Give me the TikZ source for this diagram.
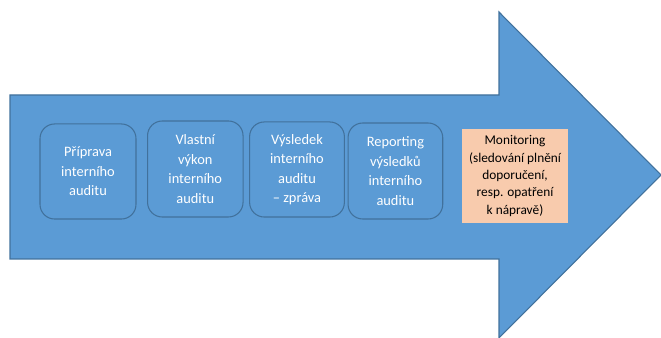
\documentclass[tikz,border=0pt]{standalone}
\usepackage{fontspec}
\setmainfont{Carlito}
\definecolor{arrowblue}{HTML}{5B9BD5}
\definecolor{edgeblue}{HTML}{41719C}
\definecolor{peach}{HTML}{F8CBAD}
\begin{document}
\begin{tikzpicture}[
    x=0.75pt, y=0.75pt,
    phase/.style={rectangle, rounded corners=11pt, draw=edgeblue, fill=arrowblue, line width=0.8pt, text=white, align=center, font=\fontsize{10.8}{14.6}\selectfont},
    monitor/.style={rectangle, fill=peach, align=center, minimum width=79.5pt, minimum height=70.5pt, inner sep=2pt, font=\fontsize{10}{13}\selectfont}
]
    \useasboundingbox (0,0) rectangle (661,338);
    % big arrow
    \draw[draw=edgeblue, fill=arrowblue, line width=0.8pt]
        (10,243) -- (499,243) -- (499,326) -- (661,163) -- (499,0) -- (499,79) -- (10,79) -- cycle;
    % phases
    \foreach \name/\x/\y/\w/\h/\txt in {
        prep/88/166.5/72/71.3/{Příprava\\interního\\auditu},
        vykon/195.3/169/71.6/72/{Vlastní\\výkon\\interního\\auditu},
        vysl/297/168.5/71.1/71.3/{Výsledek\\interního\\auditu\\– zpráva},
        rep/395.4/167/71/72/{Reporting\\výsledků\\interního\\auditu}} {
        \node[phase, minimum width=\w pt, minimum height=\h pt] (\name) at (\x,\y) {\txt};
    }
    \node[monitor] (mon) at (515,162) {Monitoring\\(sledování plnění\\doporučení,\\resp. opatření\\k nápravě)};
\end{tikzpicture}
\end{document}
